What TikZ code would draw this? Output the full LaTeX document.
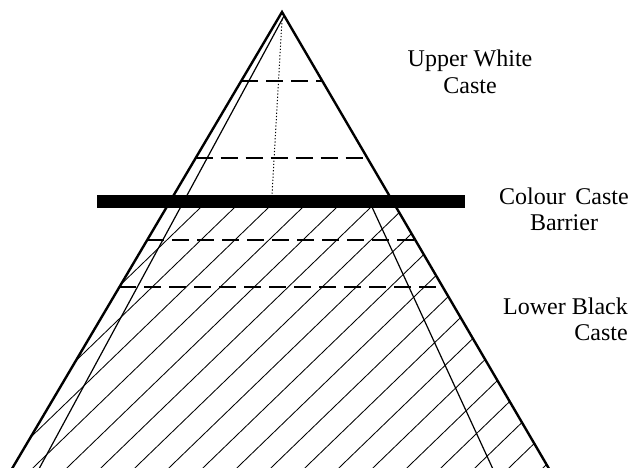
\documentclass[tikz,border=0pt]{standalone}
\usepackage{fontspec}
\setmainfont{Liberation Serif}
\usetikzlibrary{calc}
\begin{document}
\begin{tikzpicture}[x=1pt,y=-1pt,
  outerside/.style={line width=2.4pt},
  thinside/.style={line width=1.2pt},
  hatchline/.style={line width=0.85pt},
  layerline/.style={line width=1.2pt, dash pattern=on 17pt off 8pt},
  dotline/.style={line width=1pt, dash pattern=on 1.2pt off 2pt},
  castetext/.style={font=\fontsize{24}{26}\selectfont, inner sep=0pt, align=center}]
\useasboundingbox (0,0) rectangle (631,467);
\clip (0,0) rectangle (631,467);
\coordinate (A) at (282,12);
\coordinate (L) at (13,467);
\coordinate (R) at (548,467);
\coordinate (Li) at (284,16);
\coordinate (Lib) at (40,467);
\coordinate (Rt) at (492,467);
% hatching below the barrier
\begin{scope}
  \clip (A) -- ($(A)!1.2!(L)$) -- ($(A)!1.2!(R)$) -- cycle;
  \clip (0,202) rectangle (631,480);
  \foreach \k in {-3,...,20} {
    \draw[hatchline] ({200+34*\k-320},{208+320*0.966}) -- ({200+34*\k+320},{208-320*0.966});
  }
\end{scope}
% dotted axis
\coordinate (dtop) at (282,20);
\coordinate (dbot) at (272,195);
\draw[dotline] (dtop) -- (dbot);
% dashed layer lines
\foreach \y in {81,158,240,287} {
  \draw[layerline] ($(A)!{(\y-12)/455}!(L)$) -- ($(A)!{(\y-12)/455}!(R)$);
}
% sides
\draw[outerside] ($(A)!1.1!(L)$) -- (A) -- ($(A)!1.1!(R)$);
\draw[thinside] (Li) -- ($(Li)!1.1!(Lib)$);
\draw[thinside] ($(A)!0.424!(Rt)$) -- ($(A)!1.1!(Rt)$);
% barrier
\fill (97,195) rectangle (465,208);
% labels
\node[castetext, anchor=base] (upper) at (470,93) {Upper White\\[1pt]Caste};
\node[castetext, anchor=base] (barrier) at (564,230) {Colour\hspace{0.4em}Caste\\Barrier};
\node[castetext, align=right, anchor=base east] (lower) at (628,340) {Lower Black\\Caste};
\end{tikzpicture}
\end{document}
